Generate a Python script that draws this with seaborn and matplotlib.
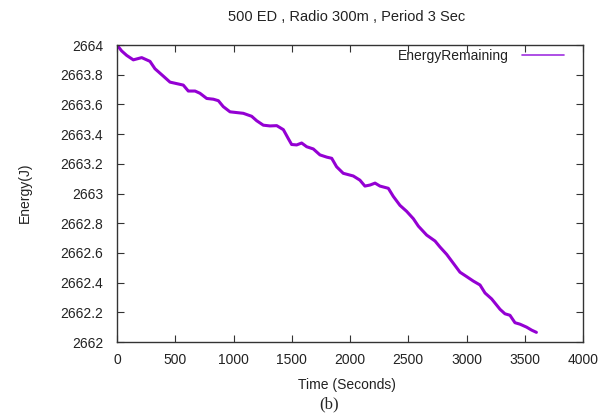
import matplotlib
matplotlib.use("Agg")
import matplotlib.pyplot as plt
import seaborn as sns
import pandas as pd
from matplotlib.ticker import FuncFormatter

time_s = [0, 40, 83, 140, 212, 283, 326, 398, 455, 512, 569, 612, 670, 712, 770,
          827, 870, 912, 970, 1027, 1084, 1156, 1199, 1256, 1313, 1371, 1428,
          1470, 1499, 1542, 1585, 1628, 1685, 1742, 1800, 1843, 1885, 1942,
          2028, 2085, 2128, 2172, 2215, 2257, 2329, 2372, 2429, 2486, 2544,
          2587, 2658, 2730, 2772, 2830, 2887, 2944, 3002, 3059, 3116, 3159,
          3216, 3288, 3330, 3373, 3416, 3459, 3516, 3559, 3600]
energy = [2664.0, 2663.96, 2663.93, 2663.90, 2663.915, 2663.89, 2663.84, 2663.79,
          2663.75, 2663.74, 2663.73, 2663.69, 2663.69, 2663.675, 2663.64,
          2663.635, 2663.625, 2663.585, 2663.55, 2663.545, 2663.54, 2663.52,
          2663.49, 2663.46, 2663.455, 2663.457, 2663.43, 2663.37, 2663.33,
          2663.327, 2663.34, 2663.315, 2663.30, 2663.26, 2663.245, 2663.237,
          2663.18, 2663.136, 2663.118, 2663.09, 2663.05, 2663.057, 2663.07,
          2663.05, 2663.035, 2662.98, 2662.92, 2662.88, 2662.83, 2662.78,
          2662.72, 2662.68, 2662.64, 2662.59, 2662.53, 2662.47, 2662.44,
          2662.41, 2662.384, 2662.33, 2662.29, 2662.22, 2662.19, 2662.18,
          2662.13, 2662.12, 2662.10, 2662.08, 2662.065]
x_ticks = [0, 500, 1000, 1500, 2000, 2500, 3000, 3500, 4000]
y_ticks = [2662, 2662.2, 2662.4, 2662.6, 2662.8, 2663, 2663.2, 2663.4, 2663.6, 2663.8, 2664]
title = "500 ED , Radio 300m , Period 3 Sec"
series_name = "EnergyRemaining"

sns.set_style("white")
plt.rcParams['font.family'] = ['Liberation Sans', 'DejaVu Sans']
txt = '#222222'

df = pd.DataFrame({"Time": time_s, "Energy": energy, "series": series_name})

fig = plt.figure(figsize=(6.11, 4.15), dpi=100)
ax = fig.add_axes([117/611, 1 - 342/415, (583-117)/611, (342-45)/415])
sns.lineplot(data=df, x="Time", y="Energy", hue="series", palette=["#9400D3"],
             linewidth=2.2, ax=ax, legend=True)

ax.set_xlim(0, 4000)
ax.set_ylim(2662, 2664)
ax.set_xticks(x_ticks)
ax.set_yticks(y_ticks)
ax.yaxis.set_major_formatter(FuncFormatter(lambda v, p: f"{v:.1f}".rstrip('0').rstrip('.')))
ax.tick_params(axis='both', direction='in', length=5, width=0.8, color='#333333',
               labelsize=10, labelcolor=txt, top=True, right=True, bottom=True, left=True)
ax.tick_params(axis='y', pad=10)
ax.tick_params(axis='x', pad=8)
for s in ax.spines.values():
    s.set_color('#333333')
    s.set_linewidth(1.0)

ax.set_xlabel("")
ax.set_ylabel("")
fig.text(347/611, 1 - 385/415, "Time (Seconds)", ha='center', va='center', fontsize=10, color=txt)
fig.text(25/611, 1 - 193/415, "Energy(J)", ha='center', va='center', fontsize=10,
         rotation=90, color=txt)
fig.text(347/611, 1 - 17/415, title, ha='center', va='center', fontsize=10.5, color=txt)

leg = ax.legend(loc='upper right', bbox_to_anchor=((564-117)/466, (342-49)/297),
                frameon=False, fontsize=10, markerfirst=False,
                handlelength=3.0, handletextpad=1.0, borderpad=0, borderaxespad=0)
for t in leg.get_texts():
    t.set_color(txt)
for h in leg.get_lines():
    h.set_linewidth(1.2)
    h.set_color('#a030e0')

fig.text(329/611, 1 - 404/415, "(b)", ha='center', va='center', fontsize=12,
         family=['Liberation Serif', 'DejaVu Serif'])

fig.savefig("out.png", dpi=100)
